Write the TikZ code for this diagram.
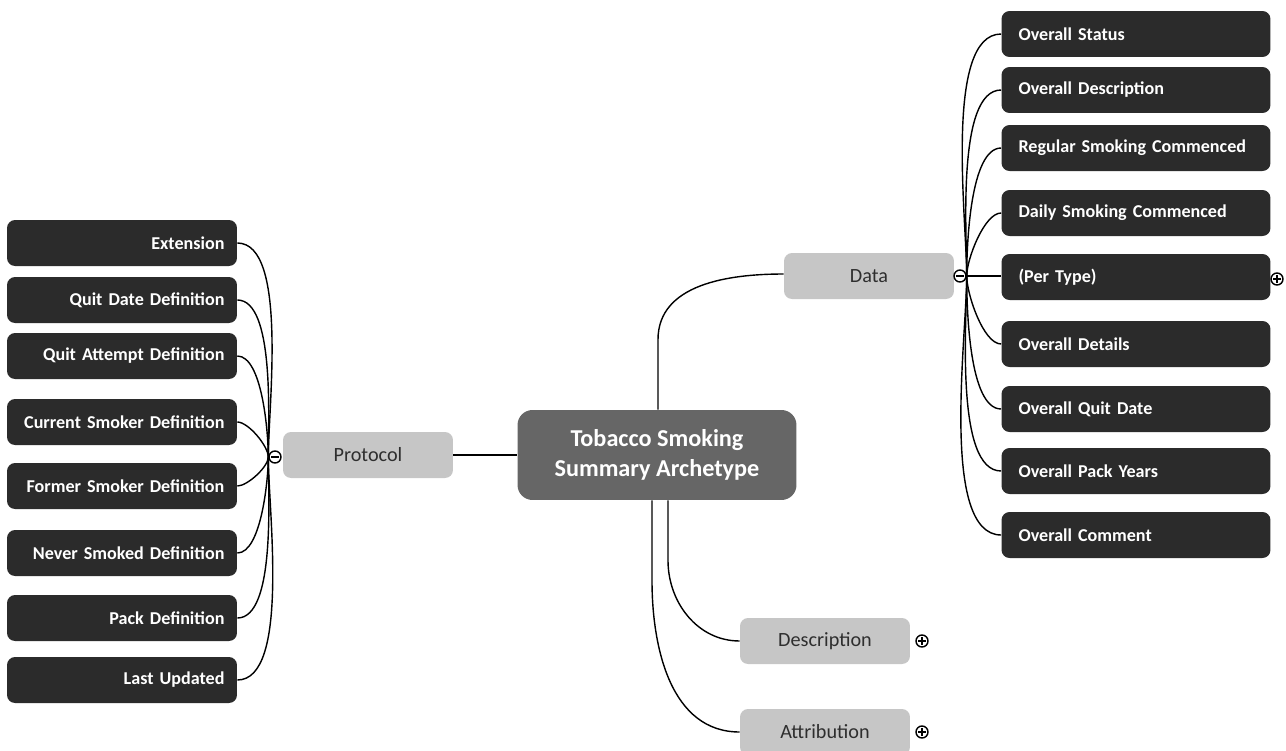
\documentclass[tikz,border=0pt]{standalone}
\usepackage{fontspec}
\setmainfont{Carlito}
\usepackage{xcolor}
\usepackage{tikz}
\usetikzlibrary{positioning}

\definecolor{leafgray}{HTML}{2B2B2B}
\definecolor{topicgray}{HTML}{C6C6C6}
\definecolor{rootgray}{HTML}{666666}
\definecolor{textgray}{HTML}{2E2E2E}

\tikzset{
  leaf/.style={rectangle,rounded corners=0.16cm,fill=leafgray,text=white,
    font=\fontsize{10.3}{12}\selectfont\bfseries,minimum height=0.92cm,inner ysep=0pt},
  leftleaf/.style={leaf,minimum width=4.6cm,text width=4.1cm,align=right,inner xsep=0.25cm},
  rightleaf/.style={leaf,minimum width=5.38cm,text width=4.7cm,align=left,inner xsep=0.34cm},
  topic/.style={rectangle,rounded corners=0.16cm,fill=topicgray,text=textgray,
    font=\fontsize{11.5}{13}\selectfont,minimum width=3.4cm,minimum height=0.92cm},
  root/.style={rectangle,rounded corners=0.3cm,fill=rootgray,text=white,align=center,
    font=\fontsize{13.8}{17}\selectfont\bfseries,minimum width=5.58cm,minimum height=1.8cm},
  toggle/.style={circle,draw,thick,inner sep=0pt,minimum size=0.24cm,fill=white},
  collapse/.style={toggle,path picture={\draw[thick] ([xshift=-0.08cm]path picture bounding box.center) -- ([xshift=0.08cm]path picture bounding box.center);}},
  expand/.style={toggle,path picture={\draw[thick] ([xshift=-0.08cm]path picture bounding box.center) -- ([xshift=0.08cm]path picture bounding box.center);
    \draw[thick] ([yshift=-0.08cm]path picture bounding box.center) -- ([yshift=0.08cm]path picture bounding box.center);}},
  link/.style={thick,black}
}

\begin{document}
\begin{tikzpicture}[x=0.02cm,y=-0.02cm]
\useasboundingbox (0,0) rectangle (1286,751);

% Centre
\node[root] (root) at (657,455) {Tobacco Smoking\\Summary Archetype};

% Main topics
\node[topic] (protocol) at (368,455) {Protocol};
\node[topic] (data) at (869,276) {Data};
\node[topic] (descr) at (825,641) {Description};
\node[topic] (attrib) at (825,732) {Attribution};

\node[collapse] (protmin) at (275,457) {};
\node[collapse] (datamin) at (960,276) {};
\node[expand] (descplus) at (922,641) {};
\node[expand] (attrplus) at (922,732) {};

% Right side - Data children
\node[rightleaf] (ostatus) at (1136,34) {Overall Status};
\node[rightleaf] (odesc) at (1136,90) {Overall Description};
\node[rightleaf] (regular) at (1136,148) {Regular Smoking Commenced};
\node[rightleaf] (daily) at (1136,213) {Daily Smoking Commenced};
\node[rightleaf] (pertype) at (1136,277) {(Per Type)};
\node[rightleaf] (odetails) at (1136,344) {Overall Details};
\node[rightleaf] (oquit) at (1136,409) {Overall Quit Date};
\node[rightleaf] (opack) at (1136,471) {Overall Pack Years};
\node[rightleaf] (ocomment) at (1136,535) {Overall Comment};
\node[expand] (typeplus) at (1277,279) {};

% Left side - Protocol children
\node[leftleaf] (extension) at (122,243) {Extension};
\node[leftleaf] (quitdate) at (122,300) {Quit Date Definition};
\node[leftleaf] (quitattempt) at (122,356) {Quit Attempt Definition};
\node[leftleaf] (current) at (122,422) {Current Smoker Definition};
\node[leftleaf] (former) at (122,486) {Former Smoker Definition};
\node[leftleaf] (never) at (122,553) {Never Smoked Definition};
\node[leftleaf] (packdef) at (122,618) {Pack Definition};
\node[leftleaf] (updated) at (122,680) {Last Updated};

% Links from the centre
\draw[link] (root.west) -- (protocol.east);
\draw[link] ([xshift=0.02cm]root.north) -- ++(0,-70) to[out=90,in=180] ([yshift=0.04cm]data.west);
\draw[link] ([xshift=0.22cm]root.south) -- ++(0,60) to[out=-90,in=180] (descr.west);
\draw[link] ([xshift=-0.1cm]root.south) -- ++(0,80) to[out=-90,in=180] (attrib.west);

% Data branch
\foreach \n in {ostatus,odesc,regular,daily}
  \draw[link] (datamin.east) to[out=90,in=180,looseness=0.6] (\n.west);
\draw[link] (datamin.east) -- (pertype.west |- datamin.east);
\foreach \n in {odetails,oquit,opack,ocomment}
  \draw[link] (datamin.east) to[out=-90,in=180,looseness=0.6] (\n.west);

% Protocol branch
\foreach \n in {extension,quitdate,quitattempt,current}
  \draw[link] (\n.east) to[out=0,in=90,looseness=0.6] (protmin.west);
\foreach \n in {former,never,packdef,updated}
  \draw[link] (\n.east) to[out=0,in=-90,looseness=0.6] (protmin.west);

\end{tikzpicture}
\end{document}
